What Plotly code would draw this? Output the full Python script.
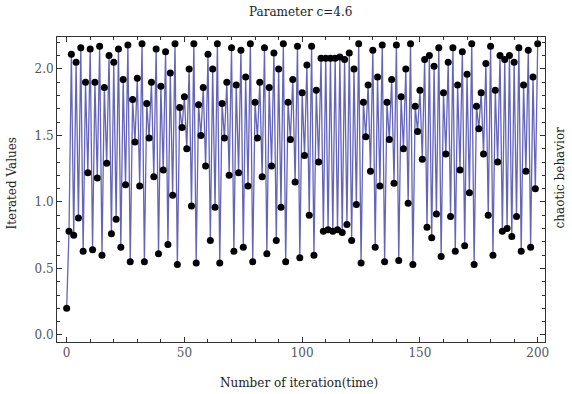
import plotly.graph_objects as go

iterations = list(range(0, 201))
values = [
    0.20, 0.78, 2.11, 0.75, 2.05, 0.88, 2.16, 0.63, 1.90, 1.22,
    2.15, 0.64, 1.90, 1.18, 2.17, 0.60, 1.86, 1.29, 2.10, 0.76,
    2.05, 0.87, 2.15, 0.66, 1.92, 1.13, 2.18, 0.55, 1.77, 1.45,
    1.93, 1.12, 2.19, 0.55, 1.74, 1.48, 1.90, 1.19, 2.15, 0.61,
    1.87, 1.24, 2.13, 0.68, 1.97, 1.05, 2.19, 0.53, 1.71, 1.56,
    1.79, 1.40, 2.00, 0.97, 2.19, 0.54, 1.73, 1.50, 1.86, 1.27,
    2.11, 0.71, 2.00, 0.96, 2.19, 0.54, 1.74, 1.48, 1.90, 1.20,
    2.16, 0.63, 1.88, 1.22, 2.14, 0.66, 1.94, 1.12, 2.19, 0.55,
    1.75, 1.48, 1.90, 1.19, 2.16, 0.61, 1.86, 1.27, 2.12, 0.71,
    2.00, 0.96, 2.19, 0.55, 1.75, 1.47, 1.92, 1.15, 2.17, 0.58,
    1.82, 1.35, 2.03, 0.90, 2.17, 0.60, 1.84, 1.30, 2.08, 0.78,
    2.08, 0.79, 2.08, 0.78, 2.08, 0.79, 2.09, 0.77, 2.07, 0.83,
    2.12, 0.71, 2.00, 0.98, 2.19, 0.54, 1.75, 1.49, 1.88, 1.23,
    2.14, 0.66, 1.94, 1.12, 2.18, 0.55, 1.75, 1.47, 1.92, 1.14,
    2.18, 0.56, 1.79, 1.40, 2.00, 0.99, 2.19, 0.53, 1.72, 1.53,
    1.84, 1.32, 2.07, 0.81, 2.10, 0.73, 2.02, 0.91, 2.16, 0.59,
    1.82, 1.36, 2.05, 0.89, 2.16, 0.63, 1.88, 1.24, 2.13, 0.67,
    1.96, 1.07, 2.19, 0.53, 1.72, 1.55, 1.82, 1.36, 2.04, 0.90,
    2.17, 0.60, 1.84, 1.30, 2.10, 0.78, 2.07, 0.80, 2.10, 0.74,
    2.05, 0.89, 2.16, 0.63, 1.88, 1.23, 2.14, 0.66, 1.94, 1.10,
    2.19,
]
x_ticks = [0, 50, 100, 150, 200]
x_tick_labels = ["0", "50", "100", "150", "200"]
y_ticks = [0.0, 0.5, 1.0, 1.5, 2.0]
y_tick_labels = ["0.0", "0.5", "1.0", "1.5", "2.0"]

title_text = "Parameter c=4.6"
x_title = "Number of iteration(time)"
y_title = "Iterated Values"
right_label = "chaotic behavior"

serif = "DejaVu Serif, serif"

fig = go.Figure()
fig.add_trace(go.Scatter(
    x=iterations, y=values, mode="lines",
    line=dict(color="rgb(100,100,185)", width=1.3),
    hoverinfo="skip", showlegend=False,
))
fig.add_trace(go.Scatter(
    x=iterations, y=values, mode="markers",
    marker=dict(color="black", size=7),
    showlegend=False,
))

axis_common = dict(
    showline=True, linecolor="#333", linewidth=1, mirror="allticks",
    ticks="inside", ticklen=5, tickcolor="#333", tickwidth=1,
    showgrid=False, zeroline=False,
    tickfont=dict(family=serif, size=12, color="#555"),
)
fig.update_xaxes(
    range=[-4.1, 203.1], tickvals=x_ticks, ticktext=x_tick_labels,
    minor=dict(ticks="inside", dtick=10, ticklen=3, tickcolor="#333", showgrid=False),
    **axis_common,
)
fig.update_yaxes(
    range=[-0.053, 2.24], tickvals=y_ticks, ticktext=y_tick_labels,
    minor=dict(ticks="inside", dtick=0.1, ticklen=3, tickcolor="#333", showgrid=False),
    **axis_common,
)

fig.update_layout(
    width=572, height=394,
    margin=dict(l=57, r=27, t=37, b=52),
    paper_bgcolor="white", plot_bgcolor="white",
    annotations=[
        dict(text=title_text, x=0.498, y=1.082, xref="paper", yref="paper",
             showarrow=False, xanchor="center", yanchor="middle",
             font=dict(family=serif, size=12, color="#222")),
        dict(text=x_title, x=0.495, y=-0.134, xref="paper", yref="paper",
             showarrow=False, xanchor="center", yanchor="middle",
             font=dict(family=serif, size=12, color="#222")),
        dict(text=y_title, x=-0.092, y=0.52, xref="paper", yref="paper",
             showarrow=False, xanchor="center", yanchor="middle", textangle=-90,
             font=dict(family=serif, size=12, color="#222")),
        dict(text=right_label, x=1.031, y=0.54, xref="paper", yref="paper",
             showarrow=False, xanchor="center", yanchor="middle", textangle=-90,
             font=dict(family=serif, size=12, color="#222")),
    ],
)

fig.write_html("out.html")
